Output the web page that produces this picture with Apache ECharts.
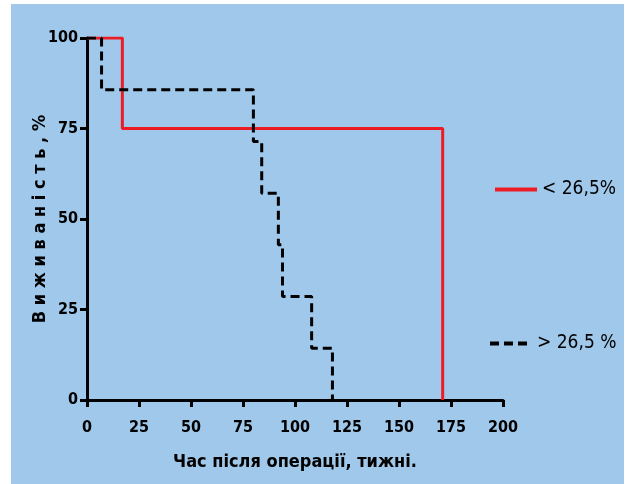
<!DOCTYPE html>
<html><head><meta charset="utf-8">
<script src="https://cdn.jsdelivr.net/npm/echarts@6/dist/echarts.min.js"></script>
<style>
html,body{margin:0;padding:0;background:#fff;}
#bg{position:absolute;left:11px;top:4px;width:613px;height:480px;background:#9fc8ea;}
#c{position:absolute;left:0;top:0;width:629px;height:484px;}
</style></head>
<body><div id="bg"></div><div id="c"></div>
<script>
const seriesNames = ['< 26,5%', '> 26,5 %'];
const lowX = [0, 17, 171];
const lowY = [100, 75, 0];
const highX = [0, 7, 80, 84, 92, 94, 108, 118];
const highY = [100, 85.7, 71.4, 57.1, 42.9, 28.6, 14.3, 0];
const xTicks = [0, 25, 50, 75, 100, 125, 150, 175, 200];
const yTicks = [0, 25, 50, 75, 100];
const xTitle = 'Час після операції, тижні.';
const yTitle = 'В и ж и в а н і с т ь , %';

const pair = (xs, ys) => xs.map((x, i) => [x, ys[i]]);
const narrow = "'Liberation Sans Narrow', 'DejaVu Sans Condensed', sans-serif";
const chart = echarts.init(document.getElementById('c'));
const axisCommon = {
  axisLine: {show: true, lineStyle: {color: '#000', width: 3}},
  axisTick: {show: true, length: 7, lineStyle: {color: '#000', width: 3}},
  splitLine: {show: false},
  axisLabel: {color: '#000', fontFamily: narrow, fontWeight: 'bold', fontSize: 16},
  nameTextStyle: {color: '#000', fontFamily: narrow, fontWeight: 'bold', fontSize: 18}
};
const legendText = {color: '#000', fontFamily: narrow, fontSize: 19};
chart.setOption({
  animation: false,
  backgroundColor: 'transparent',
  grid: {left: 87, right: 126, top: 38, bottom: 84, containLabel: false},
  xAxis: Object.assign({}, axisCommon, {
    type: 'value', min: xTicks[0], max: xTicks[xTicks.length - 1], interval: 25,
    name: xTitle, nameLocation: 'middle', nameGap: 53, nameMoveOverlap: false,
    axisLabel: Object.assign({}, axisCommon.axisLabel, {margin: 20})
  }),
  yAxis: Object.assign({}, axisCommon, {
    type: 'value', min: yTicks[0], max: yTicks[yTicks.length - 1], interval: 25,
    name: yTitle, nameLocation: 'middle', nameGap: 38, nameMoveOverlap: false,
    axisLabel: Object.assign({}, axisCommon.axisLabel, {margin: 9})
  }),
  legend: [
    {data: [seriesNames[0]], left: 493, top: 180, padding: 0, itemWidth: 42, itemHeight: 18, itemGap: 5,
     itemStyle: {opacity: 0}, lineStyle: {width: 4}, textStyle: legendText},
    {data: [seriesNames[1]], left: 488, top: 334, padding: 0, itemWidth: 42, itemHeight: 18, itemGap: 5,
     itemStyle: {opacity: 0}, lineStyle: {width: 4}, textStyle: legendText}
  ],
  series: [
    {name: seriesNames[0], type: 'line', step: 'end', symbol: 'none', data: pair(lowX, lowY),
     lineStyle: {color: '#ed1c24', width: 3}, itemStyle: {color: '#ed1c24'}},
    {name: seriesNames[1], type: 'line', step: 'end', symbol: 'none', data: pair(highX, highY),
     lineStyle: {color: '#000', width: 3, type: [9, 5]}, itemStyle: {color: '#000'}}
  ]
});
</script></body></html>
